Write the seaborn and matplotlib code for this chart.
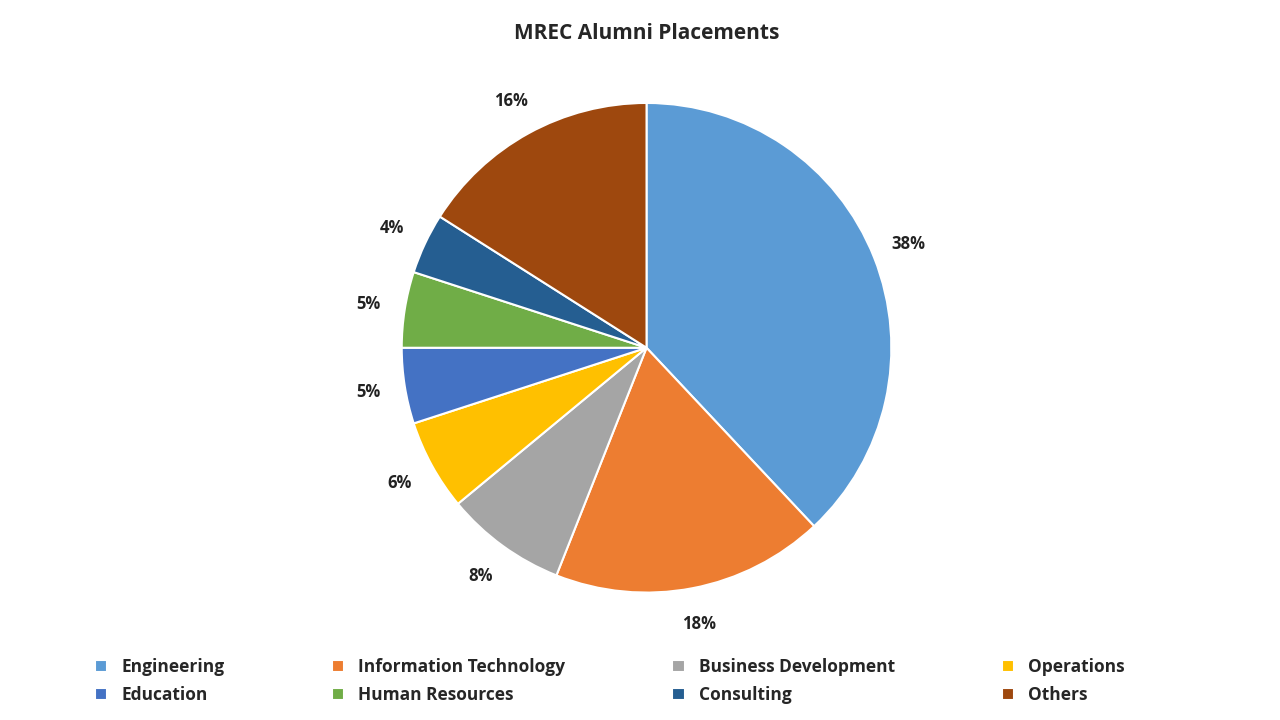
import matplotlib
matplotlib.use("Agg")
from matplotlib import pyplot as plt
import seaborn as sns

categories = ["Engineering", "Information Technology", "Business Development", "Operations",
              "Education", "Human Resources", "Consulting", "Others"]
shares = [38, 18, 8, 6, 5, 5, 4, 16]
colors = ["#5B9BD5", "#ED7D31", "#A5A5A5", "#FFC000",
          "#4472C4", "#70AD47", "#255E91", "#9E480E"]

sns.set_theme(style="white")
plt.rcParams["font.family"] = ["Open Sans", "DejaVu Sans"]

fig = plt.figure(figsize=(12.8, 7.2), dpi=100)
fig.text(0.505, 0.953, "MREC Alumni Placements", ha="center", va="center",
         fontsize=15, fontweight="bold")

ax = fig.add_axes([0.505 - 0.1914, 0.517 - 0.34, 0.383, 0.68])
wedges, _, autotexts = ax.pie(
    shares, colors=colors, startangle=90, counterclock=False,
    autopct="%d%%", pctdistance=1.15,
    wedgeprops={"edgecolor": "white", "linewidth": 1.5},
    textprops={"fontsize": 12, "fontweight": "bold", "color": "#222222"},
)
ax.set_xlim(-1, 1)
ax.set_ylim(-1, 1)
ax.set_aspect("equal")

# legend filled column-major, so reorder to read row by row
order = [0, 4, 1, 5, 2, 6, 3, 7]
fig.legend([wedges[i] for i in order], [categories[i] for i in order],
           loc="lower left", bbox_to_anchor=(0.062, 0.0), ncol=4, frameon=False,
           prop={"size": 12.5, "weight": "bold"}, handlelength=0.7, handleheight=0.7,
           columnspacing=6.2, labelspacing=0.6)

fig.savefig("out.png", dpi=100)
